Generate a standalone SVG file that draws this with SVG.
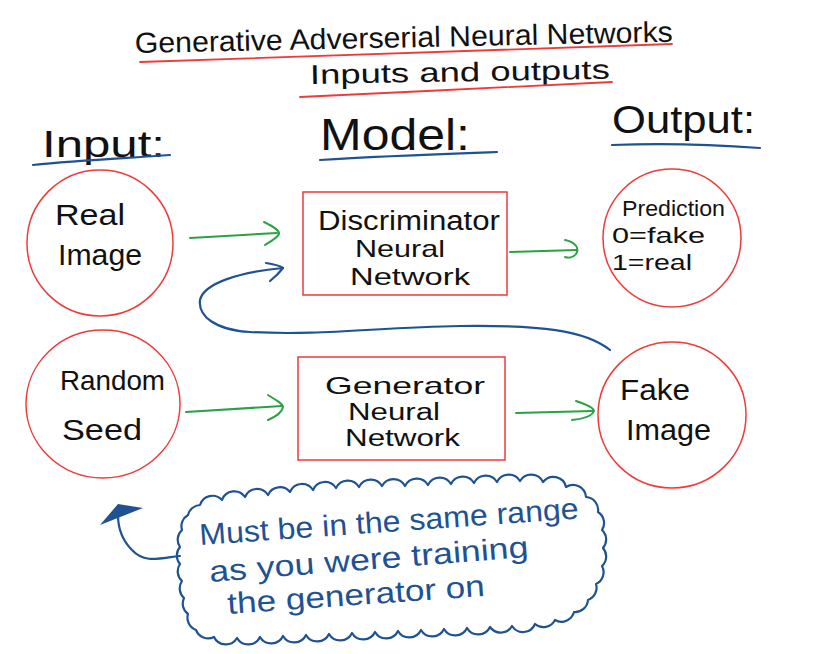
<svg xmlns="http://www.w3.org/2000/svg" width="835" height="654" viewBox="0 0 835 654">
<style>
text{font-family:"Liberation Sans","DejaVu Sans",sans-serif;fill:#111}
.red{fill:none;stroke:#f03a3a;stroke-width:1.5}
.blue{fill:none;stroke:#1f5293;stroke-width:2.2;stroke-linecap:round;stroke-linejoin:round}
.green{fill:none;stroke:#2aa144;stroke-width:2;stroke-linecap:round;stroke-linejoin:round}
.redline{fill:none;stroke:#f03a3a;stroke-width:1.8;stroke-linecap:round}
.bt{fill:#1f5293}
</style>
<rect width="835" height="654" fill="#fff"/>
<g id="title">
<text x="135" y="53" font-size="29" textLength="538" lengthAdjust="spacingAndGlyphs" transform="rotate(-1.2 135 53)">Generative Adverserial Neural Networks</text>
<path class="redline" d="M140,62 C300,58 480,52 672,44"/>
<text x="310" y="84" font-size="27" textLength="300" lengthAdjust="spacingAndGlyphs" transform="rotate(-1 310 84)">Inputs and outputs</text>
<path class="redline" d="M300,97 C400,92 520,87 612,82"/>
</g>
<g id="headers">
<text x="42" y="157" font-size="36" textLength="123" lengthAdjust="spacingAndGlyphs">Input:</text>
<path class="blue" d="M33,165 C80,160 130,158 170,155"/>
<text x="320" y="150" font-size="44" textLength="150" lengthAdjust="spacingAndGlyphs">Model:</text>
<path class="blue" d="M320,160 C380,156 440,154 497,152"/>
<text x="612" y="133" font-size="38" textLength="143" lengthAdjust="spacingAndGlyphs">Output:</text>
<path class="blue" d="M612,145 C660,143 720,145 760,148"/>
</g>
<g id="real-image">
<circle class="red" cx="100" cy="243" r="73"/>
<text x="55" y="225" font-size="30" textLength="70" lengthAdjust="spacingAndGlyphs">Real</text>
<text x="58" y="265" font-size="30" textLength="84" lengthAdjust="spacingAndGlyphs">Image</text>
</g>
<g id="discriminator">
<rect class="red" x="303" y="192" width="204" height="103"/>
<text x="318" y="230" font-size="27" textLength="182" lengthAdjust="spacingAndGlyphs">Discriminator</text>
<text x="355" y="257" font-size="24" textLength="90" lengthAdjust="spacingAndGlyphs">Neural</text>
<text x="350" y="285" font-size="24" textLength="120" lengthAdjust="spacingAndGlyphs">Network</text>
</g>
<g id="prediction">
<circle class="red" cx="672" cy="238" r="69"/>
<text x="622" y="216" font-size="22" textLength="103" lengthAdjust="spacingAndGlyphs">Prediction</text>
<text x="612" y="243" font-size="22" textLength="93" lengthAdjust="spacingAndGlyphs">0=fake</text>
<text x="612" y="270" font-size="22" textLength="80" lengthAdjust="spacingAndGlyphs">1=real</text>
</g>
<g id="random-seed">
<ellipse class="red" cx="103" cy="404" rx="77" ry="74"/>
<text x="60" y="390" font-size="28" textLength="105" lengthAdjust="spacingAndGlyphs">Random</text>
<text x="62" y="440" font-size="30" textLength="80" lengthAdjust="spacingAndGlyphs">Seed</text>
</g>
<g id="generator">
<rect class="red" x="298" y="357" width="207" height="103"/>
<text x="325" y="394" font-size="24" textLength="160" lengthAdjust="spacingAndGlyphs">Generator</text>
<text x="348" y="420" font-size="23" textLength="92" lengthAdjust="spacingAndGlyphs">Neural</text>
<text x="345" y="446" font-size="23" textLength="115" lengthAdjust="spacingAndGlyphs">Network</text>
</g>
<g id="fake-image">
<ellipse class="red" cx="672" cy="415" rx="74" ry="73"/>
<text x="620" y="400" font-size="30" textLength="70" lengthAdjust="spacingAndGlyphs">Fake</text>
<text x="626" y="440" font-size="30" textLength="85" lengthAdjust="spacingAndGlyphs">Image</text>
</g>
<g id="connectors">
<path class="green" d="M190,238 L277,233"/>
<path class="green" d="M264,222 C272,226 280,230 279,234 C277,238 270,242 265,245"/>
<path class="green" d="M510,252 L577,250"/>
<path class="green" d="M565,240 C575,242 580,248 576,254 C573,258 568,258 565,257"/>
<path class="green" d="M186,412 L282,406"/>
<path class="green" d="M268,395 C276,400 283,404 283,407 C282,412 275,417 268,420"/>
<path class="green" d="M516,413 L593,411"/>
<path class="green" d="M576,401 C585,404 594,408 594,411 C592,416 582,419 572,420"/>
<path class="blue" d="M610,350 C585,330 540,325 460,326 C380,327 320,336 250,332 C215,330 198,316 200,300 C204,283 240,272 283,268"/>
<path class="blue" d="M266,263 C273,264 280,266 283,268 C280,272 275,277 270,281"/>
<path class="blue" d="M180,556 C160,558 145,564 132,550 C122,540 118,528 118,515"/>
<polygon class="bt" points="100,525 118,504 143,508"/>
</g>
<g id="note">
<path class="blue" stroke-width="1.8" d="M200,505 A13,13 0 0 1 222,500 A13,13 0 0 1 245,497 A13,13 0 0 1 268,495 A13,13 0 0 1 290,492 A13,13 0 0 1 313,490 A13,13 0 0 1 336,488 A13,13 0 0 1 359,487 A13,13 0 0 1 382,486 A13,13 0 0 1 405,486 A13,13 0 0 1 428,485 A13,13 0 0 1 451,484 A13,13 0 0 1 474,483 A13,13 0 0 1 497,482 A13,13 0 0 1 520,481 A13,13 0 0 1 543,482 A13,13 0 0 1 566,487 A13,13 0 0 1 586,497 A13,13 0 0 1 598,512 A13,13 0 0 1 602,530 A13,13 0 0 1 603,548 A13,13 0 0 1 602,566 A13,13 0 0 1 596,584 A13,13 0 0 1 588,600 A13,13 0 0 1 574,612 A13,13 0 0 1 555,620 A13,13 0 0 1 535,624 A13,13 0 0 1 512,626 A13,13 0 0 1 490,627 A13,13 0 0 1 467,628 A13,13 0 0 1 444,629 A13,13 0 0 1 421,630 A13,13 0 0 1 398,631 A13,13 0 0 1 375,632 A13,13 0 0 1 352,633 A13,13 0 0 1 329,634 A13,13 0 0 1 306,635 A13,13 0 0 1 283,636 A13,13 0 0 1 260,637 A13,13 0 0 1 237,638 A13,13 0 0 1 214,637 A13,13 0 0 1 196,630 A13,13 0 0 1 188,614 A13,13 0 0 1 184,598 A13,13 0 0 1 182,581 A13,13 0 0 1 180,564 A13,13 0 0 1 180,547 A13,13 0 0 1 182,530 A13,13 0 0 1 188,515 A13,13 0 0 1 200,505 Z"/>
<text class="bt" x="200" y="545" font-size="30" textLength="380" lengthAdjust="spacingAndGlyphs" transform="rotate(-4 200 545)">Must be in the same range</text>
<text class="bt" x="210" y="582" font-size="30" textLength="320" lengthAdjust="spacingAndGlyphs" transform="rotate(-4.5 210 582)">as you were training</text>
<text class="bt" x="228" y="614" font-size="30" textLength="258" lengthAdjust="spacingAndGlyphs" transform="rotate(-4 228 614)">the generator on</text>
</g>
</svg>
